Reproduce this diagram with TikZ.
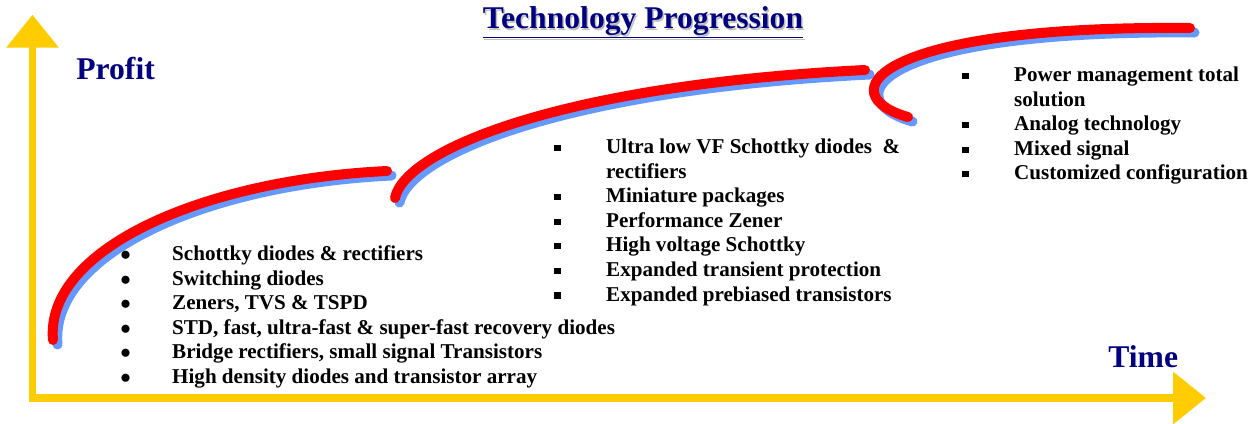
\documentclass[tikz,border=0pt]{standalone}
\usepackage{fontspec}
\setmainfont{Liberation Serif}
\usetikzlibrary{arrows.meta}

\definecolor{axisyellow}{HTML}{FFCC00}
\definecolor{trendred}{HTML}{FF0000}
\definecolor{trendblue}{HTML}{6699FF}
\definecolor{labelnavy}{HTML}{000080}

% list markers
\newcommand{\sqmark}{\rule[0.12em]{0.3em}{0.3em}}
\newcommand{\dotmark}{$\bullet$}

\begin{document}
\begin{tikzpicture}[scale=0.2,
    every node/.style={inner sep=0pt},
    axisline/.style={draw=axisyellow, line width=4pt,
      {Triangle[length=0.66cm, width=1.02cm]}-{Triangle[length=0.66cm, width=1.02cm]}},
    trend/.style={draw=trendred, line width=0.2cm, line cap=round},
    trendshade/.style={draw=trendblue, line width=0.2cm, line cap=round, shift={(0.45,-0.45)}},
    axislabel/.style={font=\fontsize{18pt}{20pt}\selectfont\bfseries, text=labelnavy, anchor=base west},
    itemlist/.style={font=\fontsize{12pt}{14pt}\selectfont\bfseries, anchor=north west}]
    \useasboundingbox (0,0) rectangle (125.2,-42.3);

    % axes
    \coordinate (origin) at (3.25,-39.8);
    \coordinate (ytop) at (3.25,-1.47);
    \coordinate (xend) at (120.6,-39.8);
    \draw [axisline] (ytop) -- (origin) -- (xend);
    \node [axislabel] (profit) at (7.6,-7.9) {Profit};
    \node [axislabel] (time) at (110.8,-36.7) {Time};

    % title with drop shadow
    \node [font=\fontsize{18pt}{20pt}\selectfont\bfseries, text=black!25, anchor=base] (titleshade) at (64.45,-3.0) {\underline{Technology Progression}};
    \node [font=\fontsize{18pt}{20pt}\selectfont\bfseries, text=labelnavy, anchor=base] (title) at (64.3,-2.8) {\underline{Technology Progression}};

    % three growth stages
    \draw [trendshade] (5.3,-34.0) .. controls (4.5,-25.0) and (20.0,-18.0) .. (38.7,-17.1);
    \draw [trend] (5.3,-34.0) .. controls (4.5,-25.0) and (20.0,-18.0) .. (38.7,-17.1);
    \draw [trendshade] (39.5,-19.8) .. controls (40.5,-15.0) and (56.0,-8.5) .. (86.5,-7.0);
    \draw [trend] (39.5,-19.8) .. controls (40.5,-15.0) and (56.0,-8.5) .. (86.5,-7.0);
    \draw [trendshade] (90.8,-11.7) .. controls (83.0,-9.5) and (87.0,-2.5) .. (119.0,-2.8);
    \draw [trend] (90.8,-11.7) .. controls (83.0,-9.5) and (87.0,-2.5) .. (119.0,-2.8);

    % product lists
    \node [itemlist] (early) at (12.0,-24.3) {%
      \begin{tabular}{@{}p{29.5pt}@{}l@{}}
        \dotmark & Schottky diodes \& rectifiers\\
        \dotmark & Switching diodes\\
        \dotmark & Zeners, TVS \& TSPD\\
        \dotmark & STD, fast, ultra-fast \& super-fast recovery diodes\\
        \dotmark & Bridge rectifiers, small signal Transistors\\
        \dotmark & High density diodes and transistor array
      \end{tabular}};
    \node [itemlist] (middle) at (55.4,-13.6) {%
      \begin{tabular}{@{}p{29.5pt}@{}l@{}}
        \sqmark & Ultra low VF Schottky diodes \ \&\\
                & rectifiers\\
        \sqmark & Miniature packages\\
        \sqmark & Performance Zener\\
        \sqmark & High voltage Schottky\\
        \sqmark & Expanded transient protection\\
        \sqmark & Expanded prebiased transistors
      \end{tabular}};
    \node [itemlist] (late) at (96.2,-6.4) {%
      \begin{tabular}{@{}p{29.5pt}@{}l@{}}
        \sqmark & Power management total\\
                & solution\\
        \sqmark & Analog technology\\
        \sqmark & Mixed signal\\
        \sqmark & Customized configuration
      \end{tabular}};
\end{tikzpicture}
\end{document}
